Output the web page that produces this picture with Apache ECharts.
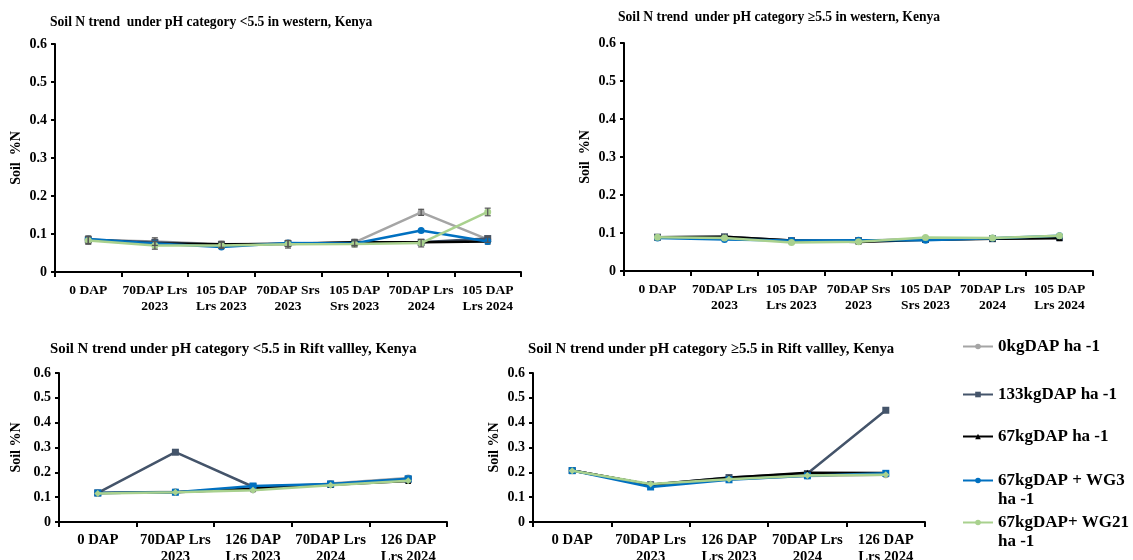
<!DOCTYPE html>
<html><head><meta charset="utf-8">
<script src="https://cdn.jsdelivr.net/npm/echarts@6/dist/echarts.min.js"></script>
<style>html,body{margin:0;padding:0;background:#fff}#c{width:1133px;height:560px}</style>
</head><body><div id="c"></div>
<script>
// ---- data ----
const catsWest = ['0 DAP','70DAP Lrs\n2023','105 DAP\nLrs 2023','70DAP Srs\n2023','105 DAP\nSrs 2023','70DAP Lrs\n2024','105 DAP\nLrs 2024'];
const catsRift = ['0 DAP','70DAP Lrs\n2023','126 DAP\nLrs 2023','70DAP Lrs\n2024','126 DAP\nLrs 2024'];
const seriesNames = ['0kgDAP ha -1','133kgDAP ha -1','67kgDAP ha -1','67kgDAP + WG3 ha -1','67kgDAP+ WG21 ha -1'];
const legendLabels = ['0kgDAP ha -1','133kgDAP ha -1','67kgDAP ha -1','\n67kgDAP + WG3\nha -1','\n67kgDAP+ WG21\nha -1'];
const yTicks = [0, 0.1, 0.2, 0.3, 0.4, 0.5, 0.6];

// Panel 1: pH <5.5 western
const w1_0kg   = [0.085, 0.080, 0.073, 0.075, 0.078, 0.157, 0.086];
const w1_133kg = [0.085, 0.078, 0.072, 0.075, 0.077, 0.078, 0.088];
const w1_67kg  = [0.085, 0.075, 0.073, 0.074, 0.078, 0.078, 0.080];
const w1_wg3   = [0.087, 0.075, 0.066, 0.076, 0.075, 0.109, 0.080];
const w1_wg21  = [0.083, 0.070, 0.070, 0.073, 0.074, 0.076, 0.158];
const w1_err0  = [0.010, 0.010, 0.008, 0.008, 0.008, 0.008, 0.008];
const w1_err21 = [0.010, 0.010, 0.008, 0.010, 0.008, 0.010, 0.010];

// Panel 2: pH >=5.5 western
const w2_0kg   = [0.088, 0.088, 0.078, 0.078, 0.085, 0.086, 0.090];
const w2_133kg = [0.089, 0.090, 0.080, 0.080, 0.083, 0.085, 0.088];
const w2_67kg  = [0.089, 0.090, 0.080, 0.076, 0.082, 0.085, 0.086];
const w2_wg3   = [0.087, 0.083, 0.080, 0.081, 0.081, 0.086, 0.093];
const w2_wg21  = [0.089, 0.087, 0.075, 0.077, 0.088, 0.087, 0.093];

// Panel 3: pH <5.5 Rift valley
const r1_0kg   = [0.117, 0.122, 0.130, 0.155, 0.177];
const r1_133kg = [0.117, 0.281, 0.142, 0.152, 0.172];
const r1_67kg  = [0.117, 0.120, 0.135, 0.150, 0.165];
const r1_wg3   = [0.117, 0.120, 0.145, 0.153, 0.174];
const r1_wg21  = [0.115, 0.120, 0.128, 0.148, 0.166];

// Panel 4: pH >=5.5 Rift valley
const r2_0kg   = [0.207, 0.150, 0.172, 0.185, 0.190];
const r2_133kg = [0.207, 0.150, 0.179, 0.195, 0.450];
const r2_67kg  = [0.207, 0.150, 0.178, 0.198, 0.197];
const r2_wg3   = [0.207, 0.141, 0.170, 0.186, 0.196];
const r2_wg21  = [0.206, 0.153, 0.172, 0.187, 0.190];

const titles = [
  'Soil N trend  under pH category <5.5 in western, Kenya',
  'Soil N trend  under pH category \u22655.5 in western, Kenya',
  'Soil N trend under pH category <5.5 in Rift vallley, Kenya',
  'Soil N trend under pH category \u22655.5 in Rift vallley, Kenya'
];
const yNames = ['Soil  %N', 'Soil  %N', 'Soil %N', 'Soil %N'];

// ---- styling ----
const FONT = "'Liberation Serif','Times New Roman',serif";
const colors = ['#A5A5A5', '#44546A', '#000000', '#0070C0', '#A9D18E'];
const symbolsTop = ['circle', 'rect', 'triangle', 'circle', 'circle'];
const symbolsBot = ['circle', 'rect', 'triangle', 'rect', 'diamond'];

const panels = [
  {cats: catsWest, data: [w1_0kg, w1_133kg, w1_67kg, w1_wg3, w1_wg21], grid: {left: 55, top: 44, width: 466, height: 228},
   title: {left: 45, top: 10, size: 13.6}, nameGap: 32, sym: symbolsTop, xFont: 13.5, xLH: 16, xMargin: 11, nameSize: 14},
  {cats: catsWest, data: [w2_0kg, w2_133kg, w2_67kg, w2_wg3, w2_wg21], grid: {left: 624, top: 43, width: 469, height: 228},
   title: {left: 613, top: 5, size: 13.6}, nameGap: 32, sym: symbolsTop, xFont: 13.5, xLH: 16, xMargin: 11, nameSize: 14},
  {cats: catsRift, data: [r1_0kg, r1_133kg, r1_67kg, r1_wg3, r1_wg21], grid: {left: 59, top: 373, width: 388, height: 149},
   title: {left: 45, top: 337, size: 14.8}, nameGap: 36, sym: symbolsBot, xFont: 14.7, xLH: 17, xMargin: 10, nameSize: 14},
  {cats: catsRift, data: [r2_0kg, r2_133kg, r2_67kg, r2_wg3, r2_wg21], grid: {left: 533, top: 373, width: 392, height: 149},
   title: {left: 523, top: 337, size: 14.8}, nameGap: 32, sym: symbolsBot, xFont: 14.7, xLH: 17, xMargin: 10, nameSize: 14}
];

const option = {
  backgroundColor: '#fff',
  animation: false,
  title: [], grid: [], xAxis: [], yAxis: [], series: [], legend: []
};

panels.forEach((p, i) => {
  option.title.push({
    text: titles[i], left: p.title.left, top: p.title.top,
    textStyle: {fontFamily: FONT, fontWeight: 'bold', fontSize: p.title.size, color: '#000'}
  });
  option.grid.push(Object.assign({containLabel: false, outerBoundsMode: 'none'}, p.grid));
  option.xAxis.push({
    type: 'category', gridIndex: i, data: p.cats, boundaryGap: true,
    axisLine: {lineStyle: {color: '#000', width: 2}},
    axisTick: {show: true, alignWithLabel: false, length: 5, lineStyle: {color: '#000', width: 2}},
    axisLabel: {interval: 0, margin: p.xMargin, fontFamily: FONT, fontWeight: 'bold', fontSize: p.xFont, color: '#000', lineHeight: p.xLH},
    splitLine: {show: false}
  });
  option.yAxis.push({
    type: 'value', gridIndex: i, min: 0, max: 0.6, interval: 0.1,
    name: yNames[i], nameLocation: 'middle', nameGap: p.nameGap, nameRotate: 90,
    nameTextStyle: {fontFamily: FONT, fontWeight: 'bold', fontSize: p.nameSize, color: '#000'},
    axisLine: {show: true, lineStyle: {color: '#000', width: 2}},
    axisTick: {show: true, length: 4, lineStyle: {color: '#000', width: 2}},
    axisLabel: {margin: 8, fontFamily: FONT, fontWeight: 'bold', fontSize: 14, color: '#000',
      formatter: v => yTicks.indexOf(Math.round(v * 10) / 10) >= 0 ? String(Math.round(v * 10) / 10) : ''},
    splitLine: {show: false}
  });
  p.data.forEach((d, k) => {
    option.series.push({
      type: 'line', name: seriesNames[k], xAxisIndex: i, yAxisIndex: i, data: d,
      symbol: p.sym[k], symbolSize: k === 2 ? 6 : 7,
      lineStyle: {color: colors[k], width: 2.5},
      itemStyle: {color: colors[k]},
      z: 2 + k
    });
  });
});

// error bars for panel 1
function errSeries(vals, errs, color) {
  return {
    type: 'custom', xAxisIndex: 0, yAxisIndex: 0, z: 10, silent: true,
    data: vals.map((v, j) => [j, v - errs[j], v + errs[j]]),
    renderItem: (params, api) => {
      const lo = api.coord([api.value(0), api.value(1)]);
      const hi = api.coord([api.value(0), api.value(2)]);
      const hw = 3;
      const st = {stroke: color, lineWidth: 1.2};
      return {type: 'group', children: [
        {type: 'line', shape: {x1: lo[0], y1: lo[1], x2: hi[0], y2: hi[1]}, style: st},
        {type: 'line', shape: {x1: lo[0] - hw, y1: lo[1], x2: lo[0] + hw, y2: lo[1]}, style: st},
        {type: 'line', shape: {x1: hi[0] - hw, y1: hi[1], x2: hi[0] + hw, y2: hi[1]}, style: st}
      ]};
    }
  };
}
option.series.push(errSeries(w1_0kg, w1_err0, '#555'));
option.series.push(errSeries(w1_wg21, w1_err21, '#555'));

// legend (one block per entry)
const legendTops = [332, 380, 422, 447, 489];
seriesNames.forEach((n, k) => {
  option.legend.push({
    data: [n], left: 957, top: legendTops[k], orient: 'vertical',
    itemWidth: 30, itemHeight: 7, itemGap: 4,
    formatter: () => legendLabels[k],
    textStyle: {fontFamily: FONT, fontWeight: 'bold', fontSize: 17, color: '#000', lineHeight: 19},
    selectedMode: false
  });
});

const chart = echarts.init(document.getElementById('c'), null, {renderer: 'canvas'});
chart.setOption(option);
</script>
</body></html>
